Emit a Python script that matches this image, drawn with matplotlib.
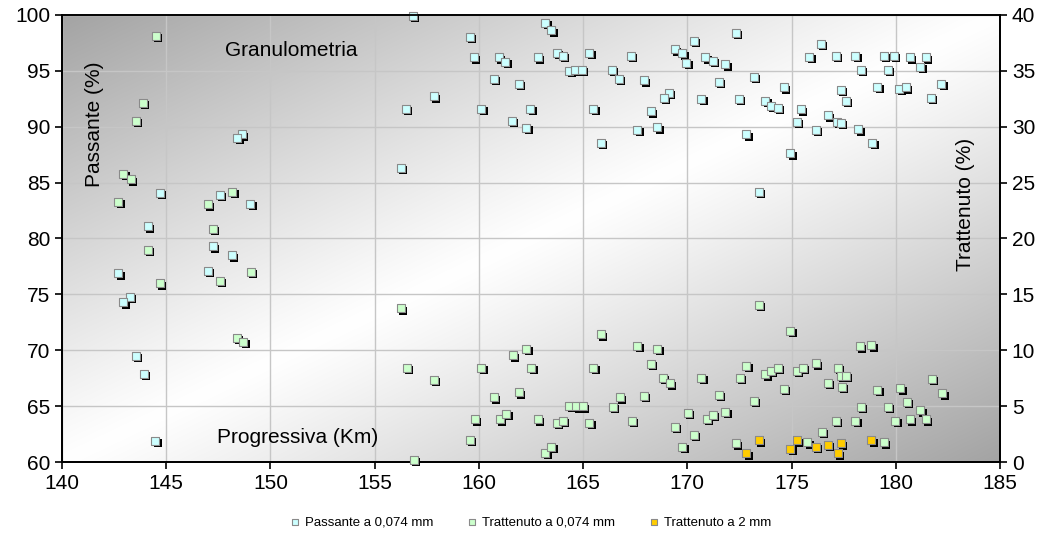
import numpy as np
import matplotlib
matplotlib.use("Agg")
import matplotlib.pyplot as plt
from matplotlib.transforms import offset_copy

plt.rcParams["font.family"] = ["Liberation Sans", "DejaVu Sans"]

# Passante a 0,074 mm (left axis, %)
pass_km = [148.62, 148.41, 144.70, 147.58, 149.03, 144.11, 147.24, 148.14, 142.70, 147.00,
           143.26, 142.94, 143.55, 143.91, 144.48,
           156.84, 163.18, 163.48, 159.56, 159.76, 160.96, 161.26, 162.82, 163.73, 164.03,
           165.29, 164.33, 164.63, 164.94, 167.30, 166.39, 166.70, 167.90, 169.41, 169.76,
           169.96, 170.32, 172.33, 170.87, 171.22, 171.82, 169.11, 168.86, 171.52, 173.18,
           174.64, 170.67, 172.48, 173.74, 173.99, 174.34, 175.45, 165.49, 168.25, 167.60,
           168.56, 165.84, 172.83, 175.25, 174.94, 173.43,
           160.71, 161.92, 157.85, 156.49, 160.11, 162.47, 161.57, 162.27, 156.24,
           175.85, 176.40, 177.11, 178.06, 178.31, 179.42, 179.92, 179.62, 180.68, 181.43,
           181.18, 177.36, 177.61, 179.12, 180.17, 180.48, 182.19, 181.68, 176.75, 177.16,
           177.36, 176.15, 178.21, 178.87]
pass_val = [89.3, 89.0, 84.1, 83.9, 83.1, 81.1, 79.3, 78.5, 76.9, 77.1,
            74.8, 74.3, 69.5, 67.9, 61.9,
            99.9, 99.3, 98.6, 98.0, 96.2, 96.2, 95.8, 96.2, 96.6, 96.3,
            96.6, 95.0, 95.05, 95.1, 96.3, 95.1, 94.25, 94.15, 96.9, 96.55,
            95.7, 97.65, 98.4, 96.2, 95.85, 95.55, 93.0, 92.6, 94.0, 94.45,
            93.5, 92.5, 92.5, 92.3, 91.85, 91.65, 91.55, 91.6, 91.35, 89.7,
            89.95, 88.55, 89.3, 90.4, 87.6, 84.2,
            94.25, 93.8, 92.7, 91.6, 91.6, 91.6, 90.5, 89.9, 86.3,
            96.25, 97.4, 96.3, 96.3, 95.1, 96.3, 96.3, 95.1, 96.2, 96.2,
            95.35, 93.3, 92.3, 93.55, 93.4, 93.5, 93.85, 92.6, 91.0, 90.45,
            90.35, 89.7, 89.75, 88.55]

# Trattenuto a 0,074 mm (right axis, %)
tr074_km = [144.50, 143.87, 143.55, 142.94, 143.31, 142.70, 148.17, 147.00, 147.24, 144.11,
            144.70, 147.58, 149.05, 148.38, 148.70,
            156.24, 156.54, 157.85, 156.89, 159.56, 159.81, 160.11, 160.71, 161.01, 161.31,
            161.62, 162.27, 162.52, 161.92, 162.82, 163.73, 163.18, 163.48,
            164.03, 164.33, 164.68, 164.98, 165.29, 165.49, 165.84, 166.44, 166.75, 167.35,
            167.60, 168.56, 167.90, 168.25, 168.81, 169.16, 169.41, 169.76, 170.01, 170.32,
            170.67, 170.92, 171.22, 171.52, 171.82, 172.33, 172.53, 172.83, 173.18, 173.43,
            173.74, 173.99, 174.34, 174.64, 174.94, 175.25,
            175.55, 176.15, 176.75, 177.21, 177.36, 177.61, 177.41, 177.11, 176.45, 178.06,
            178.31, 178.26, 178.82, 179.12, 179.62, 180.22, 179.97, 180.53, 180.68, 181.18,
            181.43, 181.73, 182.24, 175.75, 179.42]
tr074_val = [38.1, 32.15, 30.5, 25.8, 25.3, 23.25, 24.2, 23.05, 20.85, 19.0,
             16.0, 16.2, 17.05, 11.15, 10.75,
             13.75, 8.45, 7.35, 0.25, 2.0, 3.85, 8.45, 5.8, 3.85, 4.35,
             9.55, 10.15, 8.45, 6.25, 3.85, 3.5, 0.85, 1.4,
             3.7, 5.05, 5.0, 5.0, 3.5, 8.45, 11.45, 4.95, 5.8, 3.7,
             10.4, 10.15, 5.95, 8.8, 7.55, 7.05, 3.15, 1.4, 4.4, 2.45,
             7.55, 3.9, 4.25, 6.05, 4.5, 1.7, 7.55, 8.65, 5.5, 14.1,
             7.85, 8.2, 8.45, 6.55, 11.75, 8.15,
             8.45, 8.85, 7.1, 8.45, 7.7, 7.75, 6.75, 3.7, 2.75, 3.7,
             4.95, 10.35, 10.45, 6.5, 4.95, 6.6, 3.7, 5.4, 3.85, 4.65,
             3.85, 7.45, 6.15, 1.8, 1.8]

# Trattenuto a 2 mm (right axis, %)
tr2_km = [172.83, 173.43, 174.94, 175.25, 176.15, 176.75, 177.36, 177.21, 178.82]
tr2_val = [0.8, 1.95, 1.2, 1.95, 1.4, 1.55, 1.7, 0.8, 1.95]

fig = plt.figure(figsize=(10.49, 5.39), dpi=100)
ax = fig.add_axes([62 / 1049, 76.7 / 539, 938 / 1049, 447.6 / 539])
ax2 = ax.twinx()

# background gradient: dark corners top-left / bottom-right
u, v = np.meshgrid(np.linspace(0, 1, 300), np.linspace(1, 0, 200))
g = 1 - 0.36 * np.abs(u - v) ** 1.1
ax.imshow(np.dstack([g, g, g]), extent=[0, 1, 0, 1], transform=ax.transAxes,
          aspect="auto", zorder=0, interpolation="bilinear")

ax.set_xlim(140, 185)
ax.set_ylim(60, 100)
ax2.set_ylim(0, 40)
ax.set_xticks(np.arange(140, 186, 5))
ax.set_yticks(np.arange(60, 101, 5))
ax2.set_yticks(np.arange(0, 41, 5))
ax.grid(True, color="#c6c6c6", linewidth=1, zorder=1)
ax.set_axisbelow(True)
for a in (ax, ax2):
    a.tick_params(labelsize=15, direction="out", length=5, width=1.2, color="black")
    for s in a.spines.values():
        s.set_linewidth(1.3)
ax.spines["top"].set_color("#404040")


def shaded(axis, xs, ys, face, label):
    shadow = offset_copy(axis.transData, fig=fig, x=1.7, y=-1.7, units="points")
    axis.scatter(xs, ys, s=32, marker="s", color="black", linewidths=0,
                 transform=shadow, zorder=3, clip_on=False)
    return axis.scatter(xs, ys, s=29, marker="s", facecolor=face, edgecolor="#8a8a8a",
                        linewidths=0.8, zorder=4, label=label, clip_on=False)


h1 = shaded(ax, pass_km, pass_val, "#ccffff", "Passante a 0,074 mm")
h2 = shaded(ax2, tr074_km, tr074_val, "#ccffcc", "Trattenuto a 0,074 mm")
h3 = shaded(ax2, tr2_km, tr2_val, "#ffcc00", "Trattenuto a 2 mm")

ax.text(151.0, 96.8, "Granulometria", fontsize=15, ha="center", va="center", zorder=5)
ax.text(151.3, 62.2, "Progressiva (Km)", fontsize=15, ha="center", va="center", zorder=5)
ax.text(0.035, 0.755, "Passante (%)", transform=ax.transAxes, rotation=90,
        fontsize=15, ha="center", va="center", zorder=5)
ax2.text(0.963, 0.575, "Trattenuto (%)", transform=ax2.transAxes, rotation=90,
         fontsize=15, ha="center", va="center", zorder=5)

fig.legend([h1, h2, h3], [h.get_label() for h in (h1, h2, h3)], loc="center",
           bbox_to_anchor=(0.505, 0.03), ncol=3, frameon=False, fontsize=9.5,
           markerscale=0.85, handletextpad=0.3, columnspacing=2.4, handlelength=1.0)

fig.savefig("out.png", dpi=100)
